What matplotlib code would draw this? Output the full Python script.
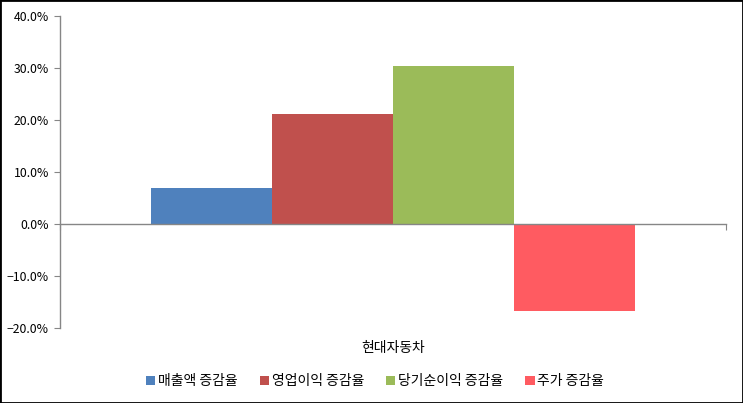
import matplotlib
matplotlib.use('Agg')
import matplotlib.pyplot as plt
from matplotlib.patches import Rectangle
from matplotlib.ticker import PercentFormatter
import matplotlib.transforms as mtransforms

plt.rcParams['font.family'] = ['Noto Sans CJK KR', 'DejaVu Sans']

# data
company = '현대자동차'
series_names = ['매출액 증감율', '영업이익 증감율', '당기순이익 증감율', '주가 증감율']
series_values = [6.9, 21.1, 30.4, -16.7]
colors = ['#4F81BD', '#C0504D', '#9BBB59', '#FF5B61']

fig = plt.figure(figsize=(7.43, 4.03), dpi=100)
ax = fig.add_axes([0.0808, 0.186, 0.977 - 0.0808, 0.960 - 0.186])

bar_w = 0.1817
n = len(series_values)
for i in range(n):
    xpos = (i - (n - 1) / 2) * bar_w
    ax.bar(xpos, series_values[i], width=bar_w, color=colors[i], label=series_names[i])

ax.set_xlim(-0.5, 0.5)
ax.set_ylim(-20, 40)
ax.set_yticks(range(-20, 41, 10))
ax.yaxis.set_major_formatter(PercentFormatter(decimals=1))

gray = '#868686'
for s in ['top', 'right']:
    ax.spines[s].set_visible(False)
ax.spines['left'].set_color(gray)
ax.spines['bottom'].set_color(gray)
ax.spines['bottom'].set_position(('data', 0))
ax.spines['left'].set_linewidth(1)
ax.spines['bottom'].set_linewidth(1)
ax.set_xticks([-0.5, 0.5])
ax.set_xticklabels(['', ''])
ax.tick_params(axis='x', direction='out', length=4, color=gray)
ax.tick_params(axis='y', direction='out', length=4, color=gray, labelsize=8.8, pad=4)

trans = mtransforms.blended_transform_factory(ax.transData, ax.transAxes)
ax.text(0, -0.065, company, transform=trans, ha='center', va='center', fontsize=10)

fig.legend(loc='center', bbox_to_anchor=(0.505, 0.054), ncol=4, frameon=False,
           fontsize=10, handlelength=0.65, handleheight=0.65, handletextpad=0.2,
           columnspacing=1.6)

fig.patches.append(Rectangle((0, 0), 1, 1, transform=fig.transFigure, fill=False,
                             edgecolor='black', linewidth=2))

fig.savefig('out.png', dpi=100)
